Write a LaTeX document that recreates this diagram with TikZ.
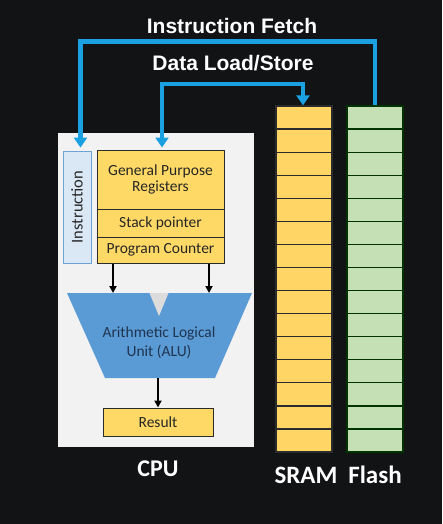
\documentclass[tikz,border=0pt]{standalone}
\usepackage{fontspec}
\setmainfont{Carlito}
\newfontfamily\arialfont{Liberation Sans}
\usetikzlibrary{arrows.meta,calc}
\definecolor{bgc}{HTML}{111315}
\definecolor{busblue}{HTML}{1BA1E2}
\definecolor{cpufill}{HTML}{F2F2F2}
\definecolor{notchfill}{HTML}{DCDCDC}
\definecolor{instrfill}{HTML}{DAE8F5}
\definecolor{instrline}{HTML}{6FA3D6}
\definecolor{regfill}{HTML}{FFD966}
\definecolor{alufill}{HTML}{5B9BD5}
\definecolor{alutext}{HTML}{1F3450}
\definecolor{sramfill}{HTML}{FFD666}
\definecolor{flashfill}{HTML}{C5E0B4}
\definecolor{darkline}{HTML}{2B2B2B}
\definecolor{boxtext}{HTML}{262626}
\tikzset{
  bus/.style={draw=busblue, line width=4.5pt},
  busarrow/.style={bus, -{Triangle[width=13pt,length=10pt]}},
  busboth/.style={bus, {Triangle[width=13pt,length=10pt]}-{Triangle[width=13pt,length=10pt]}},
  blackarrow/.style={draw=black, line width=1.8pt, -{Triangle[width=7pt,length=7pt]}},
  regbox/.style={draw=darkline, line width=1pt, fill=regfill, text=boxtext, minimum width=127pt, inner sep=0pt, font=\fontsize{15.5}{17.5}\selectfont, align=center},
  cell/.style={draw=darkline, line width=1.2pt, minimum width=56pt, minimum height=23.07pt, inner sep=0pt},
  sramcell/.style={cell, fill=sramfill},
  flashcell/.style={cell, fill=flashfill, draw=black!80!green},
  bustext/.style={text=white, font=\arialfont\bfseries\fontsize{21}{24}\selectfont},
  biglabel/.style={text=white, font=\bfseries\fontsize{24}{28}\selectfont},
}
\begin{document}
\begin{tikzpicture}[x=1pt,y=-1pt]
\fill[bgc] (0,0) rectangle (442,524);
\useasboundingbox (0,0) rectangle (442,524);
% CPU box
\node[fill=cpufill, minimum width=196pt, minimum height=314pt, inner sep=0pt] (cpu) at (156,290) {};
% Instruction
\node[draw=instrline, line width=0.8pt, fill=instrfill, minimum width=28pt, minimum height=112pt, inner sep=0pt] (instr) at (77,207) {};
\node[rotate=90, text=boxtext, font=\fontsize{16.5}{18}\selectfont] (instrtext) at (instr.center) {Instruction};
% Registers
\node[regbox, minimum height=59pt] (gpr) at (160.5,179.5) {General Purpose\\[-1pt]Registers};
\node[regbox, minimum height=28pt] (sp) at (160.5,223) {Stack pointer};
\node[regbox, minimum height=26pt] (pc) at (160.5,250) {Program Counter};
% ALU
\coordinate (alutl) at (67,293);
\coordinate (alutr) at (252,293);
\coordinate (alubr) at (215,378);
\coordinate (alubl) at (105,378);
\fill[alufill] (alutl) -- (alutr) -- (alubr) -- (alubl) -- cycle;
\fill[notchfill] (149.5,293) -- (168.5,293) -- (159,316) -- cycle;
\node[text=alutext, align=center, font=\fontsize{15.5}{19}\selectfont] (alu) at (159,343) {Arithmetic Logical\\Unit (ALU)};
\coordinate (aluin1) at (113,293);
\coordinate (aluin2) at (209,293);
\coordinate (aluout) at (158,378);
% Result
\node[regbox, minimum width=110pt, minimum height=28pt] (result) at (158,422) {Result};
\draw[blackarrow] (pc.south -| aluin1) -- (aluin1);
\draw[blackarrow] (pc.south -| aluin2) -- (aluin2);
\draw[blackarrow] (aluout) -- (result.north);
\node[biglabel] (cpulabel) at (158,469) {CPU};
% SRAM and Flash
\foreach \i in {0,...,14} {
  \node[sramcell] (s\i) at (304,{106+11.535+\i*23.07}) {};
  \node[flashcell] (f\i) at (375,{106+11.535+\i*23.07}) {};
}
\node[biglabel, font=\bfseries\fontsize{25}{28}\selectfont] (sramlabel) at (306,475) {SRAM};
\node[biglabel, font=\bfseries\fontsize{25}{28}\selectfont] (flashlabel) at (375,475) {Flash};
% Buses
\coordinate (fetchR) at (375,41.5);
\coordinate (fetchL) at (80.5,41.5);
\draw[busarrow] (f0.north) -- (fetchR) -- (fetchL) -- ($(instr.north -| fetchL)+(0,-3)$);
\node[bustext] (fetchtext) at (232,26) {Instruction Fetch};
\coordinate (dataL) at (162,84);
\coordinate (dataR) at (303,84);
\draw[busboth] ($(gpr.north -| dataL)+(0,-2)$) -- (dataL) -- (dataR) -- (s0.north -| dataR);
\node[bustext] (datatext) at (233,63) {Data Load/Store};
\end{tikzpicture}
\end{document}
